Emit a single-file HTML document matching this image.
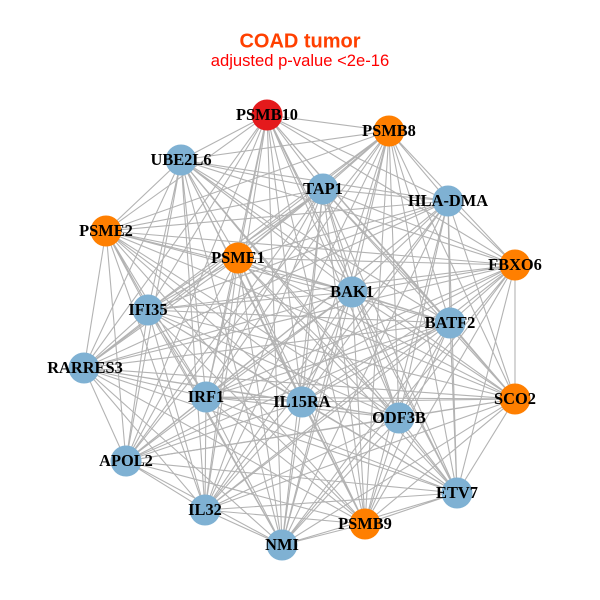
<!DOCTYPE html>
<html><head><meta charset="utf-8"><style>html,body{margin:0;padding:0;background:#fff}svg{display:block}</style></head><body>
<svg xmlns="http://www.w3.org/2000/svg" width="600" height="600" viewBox="0 0 600 600">
<rect width="600" height="600" fill="#fff"/>
<g fill="none" stroke="#b3b3b3" stroke-width="1.1">
<path d="M267 115L389 131 267 115 181 160 267 115 323 189 267 115 448 201 267 115 106 231 267 115 238 258 267 115 515 265 267 115 352 292 267 115 148 310 267 115 450 323 267 115 84 368 267 115 206 397 267 115 302 402 267 115 515 399 267 115 399 418 267 115 126 461 267 115 457 493 267 115 205 510 267 115 365 524 267 115 282 545"/>
<path d="M389 131L181 160 389 131 323 189 389 131 448 201 389 131 106 231 389 131 238 258 389 131 515 265 389 131 352 292 389 131 148 310 389 131 450 323 389 131 84 368 389 131 206 397 389 131 302 402 389 131 515 399 389 131 399 418 389 131 126 461 389 131 457 493 389 131 205 510 389 131 365 524 389 131 282 545"/>
<path d="M181 160L323 189 181 160 448 201 181 160 106 231 181 160 238 258 181 160 515 265 181 160 352 292 181 160 148 310 181 160 450 323 181 160 84 368 181 160 206 397 181 160 302 402 181 160 515 399 181 160 399 418 181 160 126 461 181 160 457 493 181 160 205 510 181 160 365 524 181 160 282 545"/>
<path d="M323 189L448 201 323 189 106 231 323 189 238 258 323 189 515 265 323 189 352 292 323 189 148 310 323 189 450 323 323 189 84 368 323 189 206 397 323 189 302 402 323 189 515 399 323 189 399 418 323 189 126 461 323 189 457 493 323 189 205 510 323 189 365 524 323 189 282 545"/>
<path d="M448 201L106 231 448 201 238 258 448 201 515 265 448 201 352 292 448 201 148 310 448 201 450 323 448 201 84 368 448 201 206 397 448 201 302 402 448 201 515 399 448 201 399 418 448 201 126 461 448 201 457 493 448 201 205 510 448 201 365 524 448 201 282 545"/>
<path d="M106 231L238 258 106 231 515 265 106 231 352 292 106 231 148 310 106 231 450 323 106 231 84 368 106 231 206 397 106 231 302 402 106 231 515 399 106 231 399 418 106 231 126 461 106 231 457 493 106 231 205 510 106 231 365 524 106 231 282 545"/>
<path d="M238 258L515 265 238 258 352 292 238 258 148 310 238 258 450 323 238 258 84 368 238 258 206 397 238 258 302 402 238 258 515 399 238 258 399 418 238 258 126 461 238 258 457 493 238 258 205 510 238 258 365 524 238 258 282 545"/>
<path d="M515 265L352 292 515 265 148 310 515 265 450 323 515 265 84 368 515 265 206 397 515 265 302 402 515 265 515 399 515 265 399 418 515 265 126 461 515 265 457 493 515 265 205 510 515 265 365 524 515 265 282 545"/>
<path d="M352 292L148 310 352 292 450 323 352 292 84 368 352 292 206 397 352 292 302 402 352 292 515 399 352 292 399 418 352 292 126 461 352 292 457 493 352 292 205 510 352 292 365 524 352 292 282 545"/>
<path d="M148 310L450 323 148 310 84 368 148 310 206 397 148 310 302 402 148 310 515 399 148 310 399 418 148 310 126 461 148 310 457 493 148 310 205 510 148 310 365 524 148 310 282 545"/>
<path d="M450 323L84 368 450 323 206 397 450 323 302 402 450 323 515 399 450 323 399 418 450 323 126 461 450 323 457 493 450 323 205 510 450 323 365 524 450 323 282 545"/>
<path d="M84 368L206 397 84 368 302 402 84 368 515 399 84 368 399 418 84 368 126 461 84 368 457 493 84 368 205 510 84 368 365 524 84 368 282 545"/>
<path d="M206 397L302 402 206 397 515 399 206 397 399 418 206 397 126 461 206 397 457 493 206 397 205 510 206 397 365 524 206 397 282 545"/>
<path d="M302 402L515 399 302 402 399 418 302 402 126 461 302 402 457 493 302 402 205 510 302 402 365 524 302 402 282 545"/>
<path d="M515 399L399 418 515 399 126 461 515 399 457 493 515 399 205 510 515 399 365 524 515 399 282 545"/>
<path d="M399 418L126 461 399 418 457 493 399 418 205 510 399 418 365 524 399 418 282 545"/>
<path d="M126 461L457 493 126 461 205 510 126 461 365 524 126 461 282 545"/>
<path d="M457 493L205 510 457 493 365 524 457 493 282 545"/>
<path d="M205 510L365 524 205 510 282 545"/>
<path d="M365 524L282 545"/>
</g>
<g>
<circle cx="267" cy="115" r="15.5" fill="#e41a1c"/>
<circle cx="389" cy="131" r="15.5" fill="#ff7f00"/>
<circle cx="181" cy="160" r="15.5" fill="#7fb1d3"/>
<circle cx="323" cy="189" r="15.5" fill="#7fb1d3"/>
<circle cx="448" cy="201" r="15.5" fill="#7fb1d3"/>
<circle cx="106" cy="231" r="15.5" fill="#ff7f00"/>
<circle cx="238" cy="258" r="15.5" fill="#ff7f00"/>
<circle cx="515" cy="265" r="15.5" fill="#ff7f00"/>
<circle cx="352" cy="292" r="15.5" fill="#7fb1d3"/>
<circle cx="148" cy="310" r="15.5" fill="#7fb1d3"/>
<circle cx="450" cy="323" r="15.5" fill="#7fb1d3"/>
<circle cx="84" cy="368" r="15.5" fill="#7fb1d3"/>
<circle cx="206" cy="397" r="15.5" fill="#7fb1d3"/>
<circle cx="302" cy="402" r="15.5" fill="#7fb1d3"/>
<circle cx="515" cy="399" r="15.5" fill="#ff7f00"/>
<circle cx="399" cy="418" r="15.5" fill="#7fb1d3"/>
<circle cx="126" cy="461" r="15.5" fill="#7fb1d3"/>
<circle cx="457" cy="493" r="15.5" fill="#7fb1d3"/>
<circle cx="205" cy="510" r="15.5" fill="#7fb1d3"/>
<circle cx="365" cy="524" r="15.5" fill="#ff7f00"/>
<circle cx="282" cy="545" r="15.5" fill="#7fb1d3"/>
</g>
<g font-family="'Liberation Serif',serif" font-weight="700" font-size="16.4" text-anchor="middle" fill="#000">
<text x="267" y="120">PSMB10</text>
<text x="389" y="136">PSMB8</text>
<text x="181" y="165">UBE2L6</text>
<text x="323" y="194">TAP1</text>
<text x="448" y="206">HLA-DMA</text>
<text x="106" y="236">PSME2</text>
<text x="238" y="263">PSME1</text>
<text x="515" y="270">FBXO6</text>
<text x="352" y="297">BAK1</text>
<text x="148" y="315">IFI35</text>
<text x="450" y="328">BATF2</text>
<text x="85" y="373">RARRES3</text>
<text x="206" y="402">IRF1</text>
<text x="302" y="407">IL15RA</text>
<text x="515" y="404">SCO2</text>
<text x="399" y="423">ODF3B</text>
<text x="126" y="466">APOL2</text>
<text x="457" y="498">ETV7</text>
<text x="205" y="515">IL32</text>
<text x="365" y="529">PSMB9</text>
<text x="282" y="550">NMI</text>
</g>
<g font-family="'Liberation Sans',sans-serif" text-anchor="middle">
<text x="300" y="47.5" font-size="20" font-weight="700" fill="#ff4000">COAD tumor</text>
<text x="300" y="66" font-size="16.6" fill="#ff0000">adjusted p-value &lt;2e-16</text>
</g>
</svg>
</body></html>
